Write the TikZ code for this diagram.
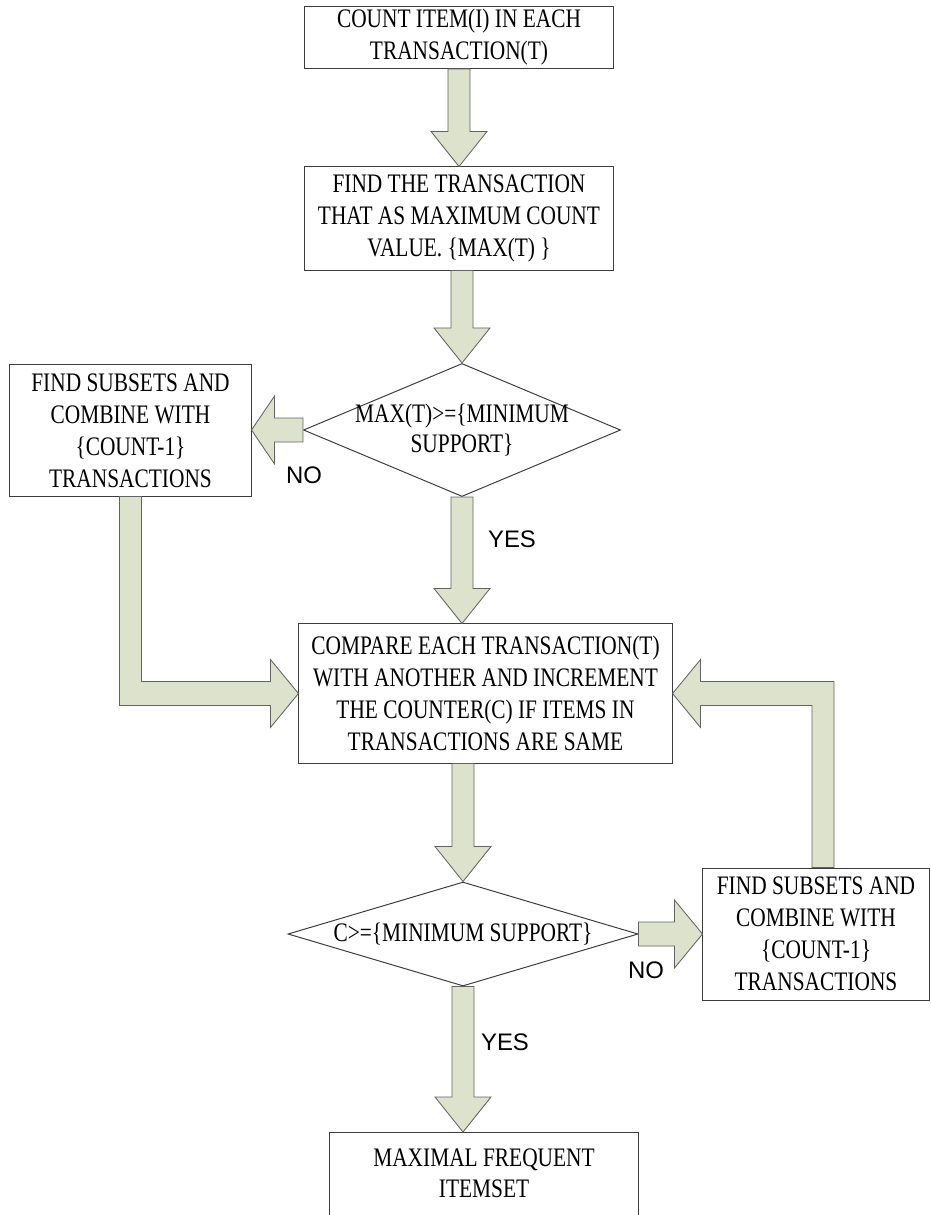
\documentclass[tikz,border=0pt]{standalone}
\usepackage{fontspec}
\newfontfamily\boxfont{Liberation Serif}[FakeStretch=0.8]
\newfontfamily\labfont{Liberation Sans}
\usetikzlibrary{shapes.geometric,calc}

\definecolor{arrowfill}{RGB}{221,226,204}
\definecolor{edgegray}{RGB}{60,60,60}

\tikzset{
  box/.style={rectangle, draw=edgegray, line width=0.7pt, align=center, inner sep=2pt,
    font=\boxfont\fontsize{19}{22.8}\selectfont},
  decision/.style={diamond, draw=edgegray, line width=0.7pt, inner sep=0pt},
  decisiontext/.style={align=center, inner sep=0pt, font=\boxfont\fontsize{19}{21.5}\selectfont},
  blockarrow/.style={fill=arrowfill, draw=edgegray!80, line width=0.6pt, line join=miter},
  answer/.style={font=\labfont\fontsize{17}{20}\selectfont, inner sep=0pt}
}

% thick arrow going down, tip at #2, shaft starting at the height of #1
\newcommand{\blockdown}[2]{%
  \coordinate (bs) at (#2 |- #1);
  \draw[blockarrow] ($(bs)+(-11,0)$) -- ($(#2)+(-11,-35)$) -- ($(#2)+(-28,-35)$) -- (#2)
    -- ($(#2)+(28,-35)$) -- ($(#2)+(11,-35)$) -- ($(bs)+(11,0)$) -- cycle;}

% thick arrow going sideways, tip at #2, head length #3 (sign gives the side)
\newcommand{\blockside}[3]{%
  \coordinate (bs) at (#1 |- #2);
  \draw[blockarrow] ($(bs)+(0,-12)$) -- ($(#2)+(#3,-12)$) -- ($(#2)+(#3,-34)$) -- (#2)
    -- ($(#2)+(#3,34)$) -- ($(#2)+(#3,12)$) -- ($(bs)+(0,12)$) -- cycle;}

\begin{document}
\begin{tikzpicture}[x=0.025cm, y=-0.025cm]

\useasboundingbox (0,0) rectangle (931,1215);

% flow chart of the maximal frequent itemset search

\node[box, minimum width=7.7cm, minimum height=1.525cm] (count) at (459,37.5)
  {COUNT ITEM(I) IN EACH\\TRANSACTION(T)};
\node[box, minimum width=7.7cm, minimum height=2.575cm] (findmax) at (459,218.5)
  {FIND THE TRANSACTION\\THAT AS MAXIMUM COUNT\\VALUE. \{MAX(T) \}};
\node[decision, minimum width=7.925cm, minimum height=3.325cm,
  label={[decisiontext]center:MAX(T)>=\{MINIMUM\\SUPPORT\}}] (maxtest) at (462,430) {};
\node[box, minimum width=6.025cm, minimum height=3.275cm] (sub1) at (130.5,430.5)
  {FIND SUBSETS AND\\COMBINE WITH\\\{COUNT-1\}\\TRANSACTIONS};
\node[box, minimum width=9.325cm, minimum height=3.475cm] (compare) at (485.5,693.5)
  {COMPARE EACH TRANSACTION(T)\\WITH ANOTHER AND INCREMENT\\THE COUNTER(C) IF ITEMS IN\\TRANSACTIONS ARE SAME};
\node[decision, minimum width=8.75cm, minimum height=2.6cm,
  label={[decisiontext]center:C>=\{MINIMUM SUPPORT\}}] (ctest) at (463,934) {};
\node[box, minimum width=5.65cm, minimum height=3.3cm] (sub2) at (816,934)
  {FIND SUBSETS AND\\COMBINE WITH\\\{COUNT-1\}\\TRANSACTIONS};
\node[box, anchor=north, minimum width=7.7cm, minimum height=3.75cm,
  label={[decisiontext, anchor=north, yshift=-0.42cm]north:MAXIMAL FREQUENT\\ITEMSET}] (final) at (484,1132) {};

\coordinate (t3) at (compare.north -| maxtest.south);
\coordinate (t5) at (final.north -| ctest.south);
\coordinate (h1) at (sub1.east |- maxtest.west);
\coordinate (h2) at (sub2.west |- ctest.east);

\blockdown{count.south}{findmax.north}
\blockdown{findmax.south}{maxtest.north}
\blockdown{maxtest.south}{t3}
\blockdown{compare.south}{ctest.north}
\blockdown{ctest.south}{t5}

\blockside{maxtest.west}{h1}{23}
\blockside{ctest.east}{h2}{-28}

% feedback from the left subsets box
\coordinate (lc) at (sub1.south |- compare.west);
\draw[blockarrow] ($(sub1.south)+(-11,0)$) -- ($(lc)+(-11,12)$) -- ($(compare.west)+(-28,12)$)
  -- ($(compare.west)+(-28,34)$) -- (compare.west) -- ($(compare.west)+(-28,-34)$)
  -- ($(compare.west)+(-28,-12)$) -- ($(lc)+(11,-12)$) -- ($(sub1.south)+(11,0)$) -- cycle;

% feedback from the right subsets box
\coordinate (rb) at ($(sub2.north)+(7,0)$);
\coordinate (rc) at (rb |- compare.east);
\draw[blockarrow] ($(rb)+(11,0)$) -- ($(rc)+(11,-12)$) -- ($(compare.east)+(28,-12)$)
  -- ($(compare.east)+(28,-34)$) -- (compare.east) -- ($(compare.east)+(28,34)$)
  -- ($(compare.east)+(28,12)$) -- ($(rc)+(-11,12)$) -- ($(rb)+(-11,0)$) -- cycle;

\node[answer] (no1) at (304,475) {NO};
\node[answer] (yes1) at (512,539) {YES};
\node[answer] (no2) at (646,970) {NO};
\node[answer] (yes2) at (505,1042) {YES};

\end{tikzpicture}
\end{document}
